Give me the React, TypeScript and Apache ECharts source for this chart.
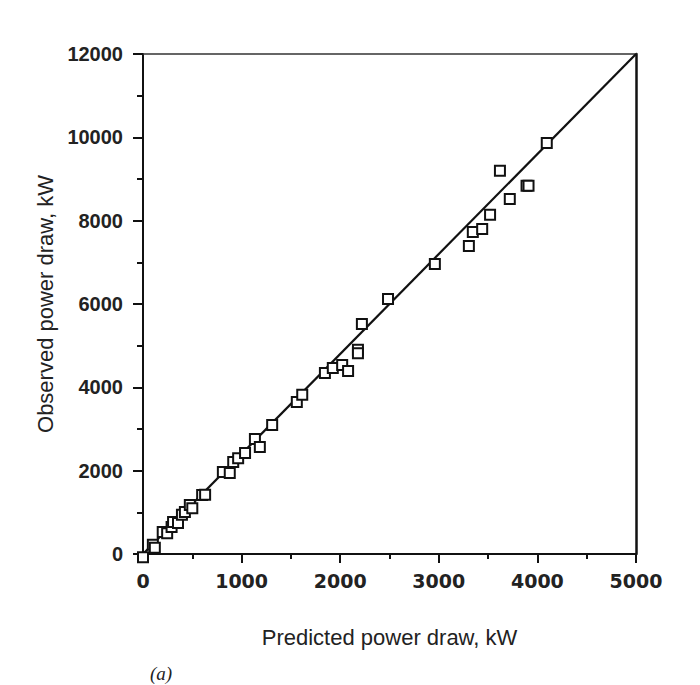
import React, { useEffect, useRef } from "react";
import * as echarts from "echarts";

const predicted = [0, 100, 120, 200, 245, 290, 305, 355, 395, 425, 475, 500, 600, 630, 810, 880, 915, 965, 1035, 1135, 1185, 1310, 1560, 1615, 1845, 1925, 2020, 2080, 2180, 2180, 2220, 2485, 2960, 3305, 3345, 3440, 3520, 3620, 3720, 3890, 3910, 4095];
const observed = [-80, 220, 150, 530, 500, 650, 770, 745, 940, 1010, 1175, 1100, 1415, 1420, 1970, 1945, 2210, 2300, 2425, 2760, 2570, 3095, 3650, 3820, 4345, 4465, 4535, 4390, 4900, 4820, 5520, 6120, 6960, 7390, 7730, 7800, 8140, 9200, 8520, 8840, 8840, 9865];
const fitLine = [[0, 0], [5000, 12000]];
const xTicks = [0, 1000, 2000, 3000, 4000, 5000];
const yTicks = [0, 2000, 4000, 6000, 8000, 10000, 12000];

export default function App() {
  const ref = useRef<HTMLDivElement>(null);
  useEffect(() => {
    document.body.style.margin = "0";
    const chart = echarts.init(ref.current!, null, { renderer: "svg" });
    const pts = predicted.map((p, i) => [p, observed[i]]);
    chart.setOption({
      animation: false,
      backgroundColor: "#fff",
      grid: { left: 143, right: 64, top: 54, bottom: 131 },
      xAxis: [
        {
          type: "value",
          min: xTicks[0],
          max: xTicks[xTicks.length - 1],
          interval: 1000,
          position: "bottom",
          name: "Predicted power draw, kW",
          nameLocation: "middle",
          nameGap: 72,
          nameTextStyle: { fontFamily: "Liberation Sans", fontSize: 22, color: "#222" },
          axisLine: { show: true, onZero: false, lineStyle: { color: "#111", width: 2 } },
          axisTick: { show: true, inside: false, length: 9, lineStyle: { color: "#111", width: 2 } },
          minorTick: { show: true, splitNumber: 2, length: 5, lineStyle: { color: "#111", width: 2 } },
          axisLabel: {
            margin: 17,
            fontFamily: "DejaVu Sans",
            fontWeight: "bold",
            fontSize: 19,
            color: "#222",
            formatter: (v: number) => String(v),
          },
          splitLine: { show: false },
        },
        {
          type: "value",
          min: 0,
          max: 5000,
          position: "top",
          axisLine: { show: true, onZero: false, lineStyle: { color: "#333", width: 1.5 } },
          axisTick: { show: false },
          axisLabel: { show: false },
          splitLine: { show: false },
        },
      ],
      yAxis: [
        {
          type: "value",
          min: yTicks[0],
          max: yTicks[yTicks.length - 1],
          interval: 2000,
          position: "left",
          name: "Observed power draw, kW",
          nameLocation: "middle",
          nameGap: 84,
          nameTextStyle: { fontFamily: "Liberation Sans", fontSize: 22, color: "#222" },
          axisLine: { show: true, onZero: false, lineStyle: { color: "#111", width: 2 } },
          axisTick: { show: true, inside: false, length: 10, lineStyle: { color: "#111", width: 2 } },
          minorTick: { show: true, splitNumber: 2, length: 6, lineStyle: { color: "#111", width: 2 } },
          axisLabel: {
            margin: 20,
            fontFamily: "Liberation Sans",
            fontWeight: "bold",
            fontSize: 20,
            color: "#222",
            formatter: (v: number) => String(v),
          },
          splitLine: { show: false },
        },
        {
          type: "value",
          min: 0,
          max: 12000,
          position: "right",
          axisLine: { show: true, onZero: false, lineStyle: { color: "#111", width: 2.5 } },
          axisTick: { show: false },
          axisLabel: { show: false },
          splitLine: { show: false },
        },
      ],
      graphic: [
        {
          type: "text",
          left: 150,
          top: 664,
          style: { text: "(a)", font: "italic 19px 'Liberation Serif'", fill: "#222" },
        },
      ],
      series: [
        {
          type: "line",
          data: fitLine,
          symbol: "none",
          lineStyle: { color: "#111", width: 2.2 },
          z: 2,
        },
        {
          type: "scatter",
          data: pts,
          symbol: "rect",
          symbolSize: 10,
          clip: false,
          itemStyle: { color: "#fff", opacity: 1, borderColor: "#111", borderWidth: 2 },
          z: 3,
        },
      ],
    });
    return () => chart.dispose();
  }, []);
  return <div ref={ref} style={{ width: 700, height: 685 }} />;
}
